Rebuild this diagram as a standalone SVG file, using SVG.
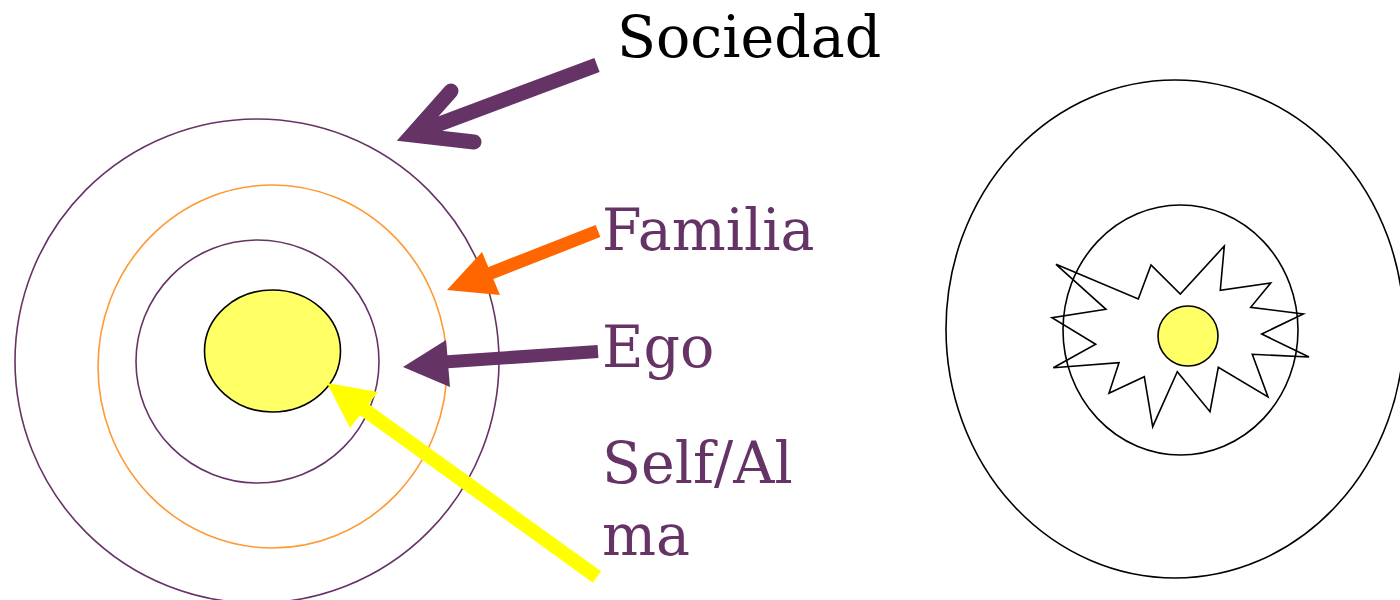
<svg xmlns="http://www.w3.org/2000/svg" width="1400" height="600" viewBox="0 0 1400 600">
<style>
.lbl{font-family:"DejaVu Serif","Liberation Serif",serif;font-size:57px;fill:#663366}
.ring{fill:none;stroke-width:1.6}
.pur{stroke:#663366}
.blk{fill:none;stroke:#000;stroke-width:1.6}
</style>
<rect width="1400" height="600" fill="#fff"/>
<g id="left-rings">
<ellipse id="sociedad-ring" class="ring pur" cx="257" cy="361" rx="242" ry="242"/>
<ellipse id="familia-ring" class="ring" stroke="#ff9933" cx="272.5" cy="366.5" rx="174.5" ry="181.5"/>
<ellipse id="ego-ring" class="ring pur" cx="257.5" cy="361.5" rx="121.5" ry="121.5"/>
<ellipse id="self-core" cx="272.5" cy="351" rx="68" ry="61" fill="#ffff66" stroke="#000" stroke-width="1.6"/>
</g>
<g id="right-figure">
<ellipse id="outer-ellipse" class="blk" cx="1175" cy="329" rx="229" ry="249"/>
<ellipse id="middle-ellipse" class="blk" cx="1180.5" cy="330" rx="117.5" ry="125"/>
<polygon id="starburst" class="blk" stroke-linejoin="miter" points="1056,264.3 1138.3,299 1151,265 1180.3,294 1224.3,246 1220.3,290.3 1270.7,283 1250.7,307.3 1303.3,314 1261.7,334 1309,357 1252.3,354.3 1268,397 1218.3,367.3 1210,411.7 1177.3,371.7 1152.7,426.7 1144.3,376.7 1109,393.3 1119,362.7 1053.3,367.7 1095.7,344.3 1052,317.7 1106,309.3"/>
<circle id="inner-core" cx="1188" cy="336" r="30" fill="#ffff66" stroke="#000" stroke-width="1.6"/>
</g>
<g id="connectors">
<g id="arrow-sociedad" stroke="#663366" fill="none" stroke-width="15">
<line x1="597" y1="65" x2="418" y2="132" stroke-linecap="butt"/>
<polyline points="451,91 412,135 474,142" stroke-linecap="round" stroke-linejoin="miter"/>
</g>
<g id="arrow-familia">
<line x1="598" y1="231" x2="486" y2="275" stroke="#ff6600" stroke-width="13"/>
<polygon points="447,290 482,252 500,295" fill="#ff6600"/>
</g>
<g id="arrow-ego">
<line x1="598" y1="351.5" x2="444" y2="362" stroke="#663366" stroke-width="13"/>
<polygon points="403,367 446,340 450,387" fill="#663366"/>
</g>
<g id="arrow-self">
<line x1="597" y1="577" x2="362" y2="408" stroke="#ffff00" stroke-width="14"/>
<polygon points="327,383 378,392 350,428" fill="#ffff00"/>
</g>
</g>
<g id="labels">
<text id="t-sociedad" class="lbl" x="617" y="57" fill="#000" style="fill:#000">Sociedad</text>
<text id="t-familia" class="lbl" x="602" y="250">Familia</text>
<text id="t-ego" class="lbl" x="602" y="367">Ego</text>
<text id="t-self" class="lbl" x="602" y="483">Self/Al</text>
<text id="t-ma" class="lbl" x="602" y="555">ma</text>
</g>
</svg>
